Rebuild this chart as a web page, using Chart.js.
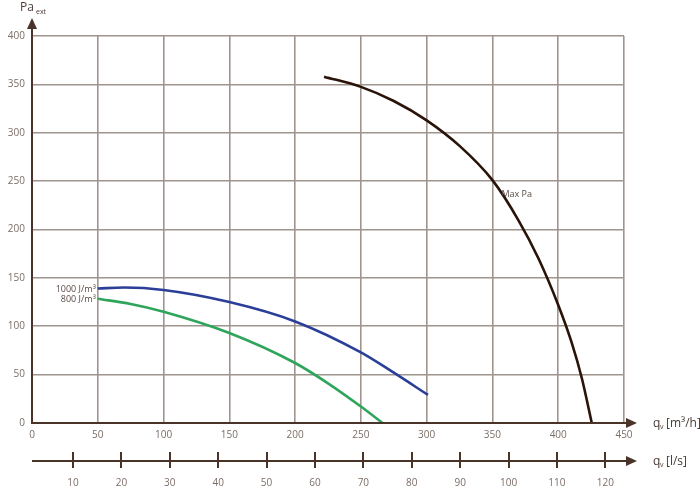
<!DOCTYPE html>
<html>
<head>
<meta charset="utf-8">
<script src="https://cdn.jsdelivr.net/npm/chart.js@4"></script>
<style>
  html, body { margin: 0; padding: 0; background: #ffffff; }
  #wrap { width: 700px; height: 489px; position: relative; }
</style>
</head>
<body>
<div id="wrap"><canvas id="c" width="700" height="489"></canvas></div>
<script>
// ---- data ----
const yTicks = [0, 50, 100, 150, 200, 250, 300, 350, 400];
const xTicks = [0, 50, 100, 150, 200, 250, 300, 350, 400, 450];
const lsTicks = [10, 20, 30, 40, 50, 60, 70, 80, 90, 100, 110, 120];

const maxPaX = [222, 250, 275, 300, 325, 350, 370, 385, 400, 410, 418, 425.5];
const maxPaY = [358, 347.4, 332.8, 312.8, 286.4, 251, 209, 170, 122, 84, 46, 0];

const j1000X = [50, 70, 100, 150, 200, 250, 275, 301];
const j1000Y = [139, 140, 137.5, 125, 105, 73, 52, 29];

const j800X = [50, 75, 100, 150, 200, 225, 250, 266.5];
const j800Y = [128.5, 123, 115, 93, 62, 41, 17, 0];

const seriesNames = ['Max Pa', '1000 J/m³', '800 J/m³'];

const pts = (xs, ys) => xs.map((x, i) => ({ x: x, y: ys[i] }));

const AXIS = '#4a3329';
const GRID = '#a0948e';
const TICK = '#7c6d66';
const LABEL = '#4a3a33';

const axesPlugin = {
  id: 'axesPlugin',
  afterDatasetsDraw(chart) {
    const { ctx, chartArea: a, scales } = chart;
    const x2 = scales.x2;
    ctx.save();
    ctx.strokeStyle = AXIS;
    ctx.fillStyle = AXIS;
    ctx.lineWidth = 2;
    // y axis with arrow
    ctx.beginPath();
    ctx.moveTo(a.left, a.bottom + 1);
    ctx.lineTo(a.left, a.top - 10);
    ctx.stroke();
    ctx.beginPath();
    ctx.moveTo(a.left, a.top - 18);
    ctx.lineTo(a.left - 5, a.top - 7);
    ctx.lineTo(a.left + 5, a.top - 7);
    ctx.closePath();
    ctx.fill();
    // x axis with arrow
    ctx.beginPath();
    ctx.moveTo(a.left - 1, a.bottom);
    ctx.lineTo(a.right + 5, a.bottom);
    ctx.stroke();
    ctx.beginPath();
    ctx.moveTo(a.right + 13, a.bottom);
    ctx.lineTo(a.right + 2, a.bottom - 5);
    ctx.lineTo(a.right + 2, a.bottom + 5);
    ctx.closePath();
    ctx.fill();
    // l/s axis
    const yl = 461;
    ctx.beginPath();
    ctx.moveTo(a.left, yl);
    ctx.lineTo(a.right + 5, yl);
    ctx.stroke();
    ctx.beginPath();
    ctx.moveTo(a.right + 13, yl);
    ctx.lineTo(a.right + 2, yl - 5);
    ctx.lineTo(a.right + 2, yl + 5);
    ctx.closePath();
    ctx.fill();
    lsTicks.forEach(v => {
      const px = Math.round(x2.getPixelForValue(v));
      ctx.beginPath();
      ctx.moveTo(px, yl - 9);
      ctx.lineTo(px, yl + 7);
      ctx.stroke();
    });

    // axis titles
    ctx.fillStyle = LABEL;
    ctx.textBaseline = 'alphabetic';
    ctx.textAlign = 'left';
    ctx.font = '12px "Open Sans", sans-serif';
    ctx.fillText('Pa', 20, 11);
    ctx.font = '7px "Open Sans", sans-serif';
    ctx.fillText('ext', 36, 14);

    const drawQ = (y, unit) => {
      ctx.font = '12px "Open Sans", sans-serif';
      ctx.fillText('q', 653, y);
      ctx.font = '7px "Open Sans", sans-serif';
      ctx.fillText('v', 660, y + 2);
      ctx.font = '12px "Open Sans", sans-serif';
      ctx.fillText(unit, 666, y);
    };
    drawQ(427, '[m³/h]');
    drawQ(465, '[l/s]');

    // curve labels
    const xs = scales.x, ys = scales.y;
    ctx.fillStyle = '#5a4a44';
    ctx.font = '9px "Open Sans", sans-serif';
    ctx.textBaseline = 'middle';
    ctx.textAlign = 'right';
    ctx.fillText(seriesNames[1], xs.getPixelForValue(j1000X[0]) - 2, ys.getPixelForValue(j1000Y[0]) + 1);
    ctx.fillText(seriesNames[2], xs.getPixelForValue(j800X[0]) - 2, ys.getPixelForValue(j800Y[0]) + 1);
    ctx.textAlign = 'left';
    ctx.fillText(seriesNames[0], xs.getPixelForValue(350) + 9, ys.getPixelForValue(236));
    ctx.restore();
  }
};

const tickFont = { family: '"Open Sans", sans-serif', size: 10 };

new Chart(document.getElementById('c'), {
  type: 'scatter',
  data: {
    datasets: [
      { label: seriesNames[0], data: pts(maxPaX, maxPaY), borderColor: '#2a1409', borderWidth: 2.6 },
      { label: seriesNames[1], data: pts(j1000X, j1000Y), borderColor: '#2b3f98', borderWidth: 2.6 },
      { label: seriesNames[2], data: pts(j800X, j800Y), borderColor: '#2fa55c', borderWidth: 2.6 }
    ].map(d => Object.assign(d, { showLine: true, pointRadius: 0, cubicInterpolationMode: 'monotone', fill: false }))
  },
  options: {
    responsive: false,
    animation: false,
    devicePixelRatio: 1,
    layout: { padding: { left: 0, right: 76, top: 36, bottom: 0 } },
    plugins: { legend: { display: false }, tooltip: { enabled: false } },
    scales: {
      x: {
        type: 'linear', position: 'bottom', min: 0, max: 450,
        afterFit: s => { s.height = 28; },
        afterBuildTicks: s => { s.ticks = xTicks.map(v => ({ value: v })); },
        grid: { color: GRID, lineWidth: 1.6, drawTicks: false },
        border: { display: false },
        ticks: { color: TICK, font: tickFont, padding: 6, maxRotation: 0 }
      },
      x2: {
        type: 'linear', position: 'bottom', min: 1.53, max: 123.86,
        afterFit: s => { s.height = 38; },
        afterBuildTicks: s => { s.ticks = lsTicks.map(v => ({ value: v })); },
        grid: { display: false, drawTicks: false },
        border: { display: false },
        ticks: { color: TICK, font: tickFont, padding: 26, maxRotation: 0 }
      },
      y: {
        type: 'linear', min: 0, max: 400,
        afterFit: s => { s.width = 32; },
        afterBuildTicks: s => { s.ticks = yTicks.map(v => ({ value: v })); },
        grid: { color: GRID, lineWidth: 1.6, drawTicks: false },
        border: { display: false },
        ticks: { color: TICK, font: tickFont, padding: 7 }
      }
    }
  },
  plugins: [axesPlugin]
});
</script>
</body>
</html>
